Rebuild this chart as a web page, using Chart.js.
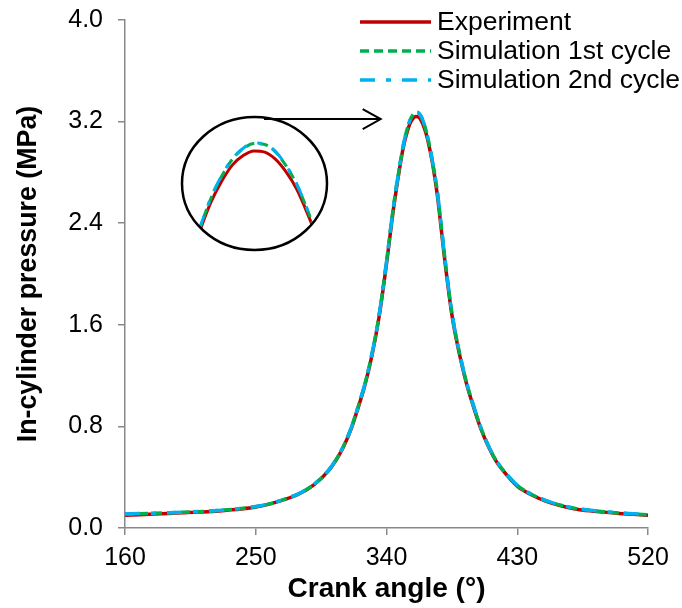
<!DOCTYPE html>
<html>
<head>
<meta charset="utf-8">
<script src="https://cdn.jsdelivr.net/npm/chart.js@4.4.1/dist/chart.umd.min.js"></script>
<style>
  body { margin: 0; background: #fff; }
  #wrap { position: relative; width: 682px; height: 608px; }
  #mainChart { position: absolute; left: 0; top: 0; }
  #zoomChart { position: absolute; left: 180px; top: 115px; }
</style>
</head>
<body>
<div id="wrap">
  <canvas id="mainChart" width="682" height="608"></canvas>
  <canvas id="zoomChart" width="150" height="138"></canvas>
</div>
<script>
// values
const crankAngle = [160, 170, 180, 190, 200, 210, 220, 230, 240, 250, 260, 270, 280, 290, 300, 305, 310, 315, 320, 325,
  330, 335, 340, 345, 350, 352, 354, 356, 358, 360, 362, 364, 366, 368, 370, 372, 375, 380, 385, 390,
  395, 400, 405, 410, 415, 420, 430, 440, 450, 460, 470, 480, 490, 500, 510, 520];
const experiment = [0.100, 0.105, 0.110, 0.115, 0.120, 0.125, 0.130, 0.140, 0.150, 0.165, 0.190, 0.225, 0.270, 0.340, 0.450, 0.530, 0.630, 0.760, 0.930, 1.120,
  1.360, 1.670, 2.080, 2.530, 2.900, 3.020, 3.110, 3.180, 3.220, 3.240, 3.235, 3.205, 3.150, 3.075, 2.970, 2.850, 2.620, 2.120, 1.680, 1.380,
  1.140, 0.950, 0.780, 0.645, 0.535, 0.455, 0.330, 0.260, 0.210, 0.175, 0.150, 0.135, 0.125, 0.115, 0.108, 0.100];
const simCycle1 = [0.110, 0.112, 0.116, 0.120, 0.124, 0.128, 0.134, 0.143, 0.154, 0.168, 0.192, 0.227, 0.272, 0.342, 0.452, 0.533, 0.635, 0.766, 0.937, 1.128,
  1.370, 1.682, 2.095, 2.550, 2.912, 3.037, 3.132, 3.205, 3.250, 3.272, 3.268, 3.236, 3.176, 3.095, 2.985, 2.862, 2.645, 2.140, 1.695, 1.392,
  1.150, 0.958, 0.786, 0.650, 0.540, 0.460, 0.336, 0.264, 0.214, 0.179, 0.154, 0.139, 0.128, 0.118, 0.111, 0.104];
const simCycle2 = [0.112, 0.114, 0.117, 0.121, 0.125, 0.129, 0.135, 0.144, 0.155, 0.169, 0.193, 0.228, 0.273, 0.343, 0.453, 0.534, 0.636, 0.767, 0.938, 1.130,
  1.372, 1.684, 2.097, 2.552, 2.915, 3.040, 3.135, 3.207, 3.252, 3.274, 3.270, 3.238, 3.178, 3.097, 2.987, 2.864, 2.647, 2.142, 1.697, 1.394,
  1.152, 0.960, 0.788, 0.652, 0.542, 0.462, 0.337, 0.265, 0.215, 0.180, 0.155, 0.140, 0.129, 0.119, 0.112, 0.105];
const seriesNames = ['Experiment', 'Simulation 1st cycle', 'Simulation 2nd cycle'];
const xTicks = [160, 250, 340, 430, 520];
const yTicks = [0, 0.8, 1.6, 2.4, 3.2, 4.0];

const FONT = "'Liberation Sans', Arial, sans-serif";
const GREY = '#898989';

const seriesStyles = [
    { color: '#C00000', dash: [] },
    { color: '#00B050', dash: [9, 5] },
    { color: '#00B0F0', dash: [15, 11, 5, 11] }
];

function makeDatasets(width) {
    return [experiment, simCycle1, simCycle2].map((vals, i) => ({
        label: seriesNames[i],
        data: crankAngle.map((a, j) => ({ x: a, y: vals[j] })),
        borderColor: seriesStyles[i].color,
        borderDash: seriesStyles[i].dash,
        borderWidth: width,
        pointRadius: 0,
        fill: false,
        cubicInterpolationMode: 'monotone',
        order: 3 - i   // blue drawn on top, red underneath
    }));
}

// legend in the top right corner, arrow towards the peak
const overlayPlugin = {
    id: 'overlay',
    afterDraw(chart) {
        const ctx = chart.ctx;
        ctx.save();
        ctx.font = `26.5px ${FONT}`;
        ctx.textBaseline = 'middle';
        ctx.fillStyle = '#000';
        chart.data.datasets.forEach((ds, i) => {
            const y = 22 + i * 29;
            ctx.strokeStyle = ds.borderColor;
            ctx.lineWidth = 3.5;
            ctx.setLineDash(ds.borderDash);
            ctx.beginPath();
            ctx.moveTo(360, y);
            ctx.lineTo(431, y);
            ctx.stroke();
            ctx.fillText(ds.label, 437, y + 1);
        });

        const tipX = chart.scales.x.getPixelForValue(336);
        const tipY = chart.scales.y.getPixelForValue(3.22);
        ctx.setLineDash([]);
        ctx.strokeStyle = '#000';
        ctx.lineWidth = 2;
        ctx.beginPath();
        ctx.moveTo(264, tipY);
        ctx.lineTo(tipX, tipY);
        ctx.moveTo(tipX - 18, tipY - 10);
        ctx.lineTo(tipX, tipY);
        ctx.lineTo(tipX - 18, tipY + 10);
        ctx.stroke();
        ctx.restore();
    }
};

new Chart(document.getElementById('mainChart'), {
    type: 'line',
    data: { datasets: makeDatasets(3.5) },
    options: {
        responsive: false,
        animation: false,
        events: [],
        layout: { padding: { top: 20, right: 34, left: 0, bottom: 0 } },
        plugins: { legend: { display: false }, tooltip: { enabled: false } },
        scales: {
            x: {
                type: 'linear',
                min: 160,
                max: 520,
                afterBuildTicks: s => { s.ticks = xTicks.map(v => ({ value: v })); },
                afterFit: s => { s.height = 80; s.paddingLeft = 0; s.paddingRight = 0; },
                grid: { display: true, drawOnChartArea: false, drawTicks: true, tickLength: 7, color: GREY, lineWidth: 1.5 },
                border: { color: GREY, width: 1.5 },
                ticks: { font: { family: FONT, size: 25 }, color: '#000', padding: 8, maxRotation: 0, callback: v => String(v) },
                title: {
                    display: true, text: 'Crank angle (°)', color: '#000',
                    font: { family: FONT, size: 28, weight: 'bold' }, padding: { top: 0, bottom: 2 }
                }
            },
            y: {
                type: 'linear',
                min: 0,
                max: 4,
                afterBuildTicks: s => { s.ticks = yTicks.map(v => ({ value: v })); },
                afterFit: s => { s.width = 125; s.paddingTop = 0; s.paddingBottom = 0; },
                grid: { display: true, drawOnChartArea: false, drawTicks: true, tickLength: 7, color: GREY, lineWidth: 1.5 },
                border: { color: GREY, width: 1.5 },
                ticks: { font: { family: FONT, size: 25 }, color: '#000', padding: 15, callback: v => Number(v).toFixed(1) },
                title: {
                    display: true, text: 'In-cylinder pressure (MPa)', color: '#000',
                    font: { family: FONT, size: 26.8, weight: 'bold' }, padding: { top: 13, bottom: 0 }
                }
            }
        }
    },
    plugins: [overlayPlugin]
});

// magnified peak inside the ellipse
const ellipse = { cx: 74.5, cy: 68.5, rx: 72.5, ry: 66.5 };
const zoomPlugin = {
    id: 'zoomClip',
    beforeDatasetsDraw(chart) {
        const ctx = chart.ctx;
        ctx.save();
        ctx.beginPath();
        ctx.ellipse(ellipse.cx, ellipse.cy, ellipse.rx, ellipse.ry, 0, 0, Math.PI * 2);
        ctx.clip();
    },
    afterDatasetsDraw(chart) {
        chart.ctx.restore();
    },
    afterDraw(chart) {
        const ctx = chart.ctx;
        ctx.save();
        ctx.strokeStyle = '#000';
        ctx.lineWidth = 2.5;
        ctx.beginPath();
        ctx.ellipse(ellipse.cx, ellipse.cy, ellipse.rx, ellipse.ry, 0, 0, Math.PI * 2);
        ctx.stroke();
        ctx.restore();
    }
};

new Chart(document.getElementById('zoomChart'), {
    type: 'line',
    data: { datasets: makeDatasets(3) },
    options: {
        responsive: false,
        animation: false,
        events: [],
        layout: { padding: 0 },
        plugins: { legend: { display: false }, tooltip: { enabled: false } },
        scales: {
            x: { type: 'linear', display: false, min: 346.2, max: 374.2 },
            y: { type: 'linear', display: false, min: 2.80, max: 3.395 }
        }
    },
    plugins: [zoomPlugin]
});
</script>
</body>
</html>
